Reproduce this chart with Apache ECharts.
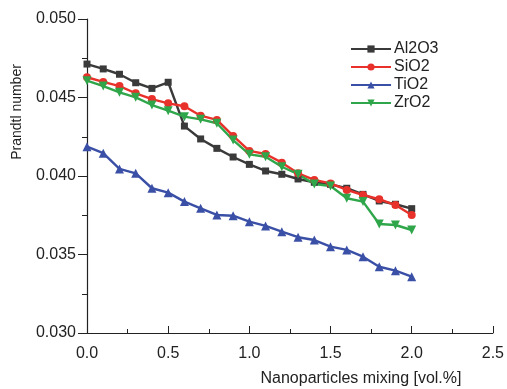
<!DOCTYPE html>
<html>
<head>
<meta charset="utf-8">
<script src="https://cdn.jsdelivr.net/npm/echarts@6/dist/echarts.min.js"></script>
<style>
html,body{margin:0;padding:0;background:#fff;}
#chart{width:507px;height:389px;}
</style>
</head>
<body>
<div id="chart"></div>
<script>
const xValues = [0.0,0.1,0.2,0.3,0.4,0.5,0.6,0.7,0.8,0.9,1.0,1.1,1.2,1.3,1.4,1.5,1.6,1.7,1.8,1.9,2.0];
const al2o3 = [0.04713,0.04682,0.04648,0.04594,0.04558,0.04597,0.04318,0.04236,0.04176,0.04121,0.04074,0.04032,0.04011,0.03981,0.03960,0.03947,0.03922,0.03883,0.03841,0.03820,0.03792];
const sio2  = [0.04629,0.04599,0.04573,0.04527,0.04490,0.04463,0.04444,0.04384,0.04357,0.04255,0.04160,0.04140,0.04085,0.04017,0.03975,0.03953,0.03911,0.03879,0.03852,0.03815,0.03752];
const tio2  = [0.04187,0.04145,0.04045,0.04017,0.03922,0.03894,0.03837,0.03794,0.03752,0.03747,0.03709,0.03682,0.03645,0.03610,0.03592,0.03550,0.03529,0.03486,0.03422,0.03397,0.03359];
const zro2  = [0.04607,0.04573,0.04533,0.04501,0.04452,0.04416,0.04378,0.04361,0.04336,0.04229,0.04138,0.04123,0.04059,0.04011,0.03949,0.03936,0.03858,0.03837,0.03694,0.03688,0.03656];
const seriesNames = ['Al2O3','SiO2','TiO2','ZrO2'];
const xTitle = 'Nanoparticles mixing [vol.%]';
const yTitle = 'Prandtl number';

function pairs(ys){ return xValues.map((x,i)=>[x, ys[i]]); }

const chart = echarts.init(document.getElementById('chart'), null, {renderer:'canvas'});
const font = 'Liberation Sans, Arial, sans-serif';
const txt = '#222';
function mk(name, data, color, symbol, size, rot){
  return {
    name, type:'line', data:pairs(data),
    symbol, symbolSize:size, symbolRotate:rot||0,
    itemStyle:{color},
    lineStyle:{color, width:2.4},
    z: 2
  };
}
chart.setOption({
  animation:false,
  backgroundColor:'#fff',
  grid:{left:87, right:14, top:19, bottom:56, containLabel:false},
  legend:{
    orient:'vertical', left:345, top:36, itemWidth:40, itemHeight:9, itemGap:2,
    textStyle:{fontFamily:font, fontSize:16, color:txt, padding:[0,0,0,-2]},
    data:seriesNames
  },
  xAxis:{
    type:'value', min:0, max:2.5, interval:0.5,
    axisLine:{show:true, lineStyle:{color:'#222', width:1.2}},
    axisTick:{show:true, inside:true, length:7, lineStyle:{color:'#222'}},
    minorTick:{show:true, splitNumber:2, length:4, lineStyle:{color:'#222'}},
    splitLine:{show:false},
    axisLabel:{fontFamily:font, fontSize:16, color:txt, margin:13, formatter:v=>v.toFixed(1)}
  },
  yAxis:{
    type:'value', min:0.030, max:0.050, interval:0.005,
    axisLine:{show:true, lineStyle:{color:'#222', width:1.2}},
    axisTick:{show:true, length:9, lineStyle:{color:'#222'}},
    minorTick:{show:true, splitNumber:2, length:5, lineStyle:{color:'#222'}},
    splitLine:{show:false},
    axisLabel:{fontFamily:font, fontSize:16, color:txt, margin:11, formatter:v=>v.toFixed(3)}
  },
  graphic:[
    {type:'text', x:10, y:112, rotation:Math.PI/2,
     style:{text:yTitle, fontFamily:font, fontSize:14, fill:txt, textAlign:'center', textVerticalAlign:'top'}},
    {type:'text', x:361, y:371,
     style:{text:xTitle, fontFamily:font, fontSize:16, fill:txt, textAlign:'center', textVerticalAlign:'top'}}
  ],
  series:[
    mk('Al2O3', al2o3, '#3a3a3a', 'rect', 7),
    mk('SiO2', sio2, '#e8312b', 'circle', 8),
    mk('TiO2', tio2, '#3a4fa6', 'triangle', 9),
    mk('ZrO2', zro2, '#2fa64a', 'triangle', 9, 180)
  ]
});
</script>
</body>
</html>
